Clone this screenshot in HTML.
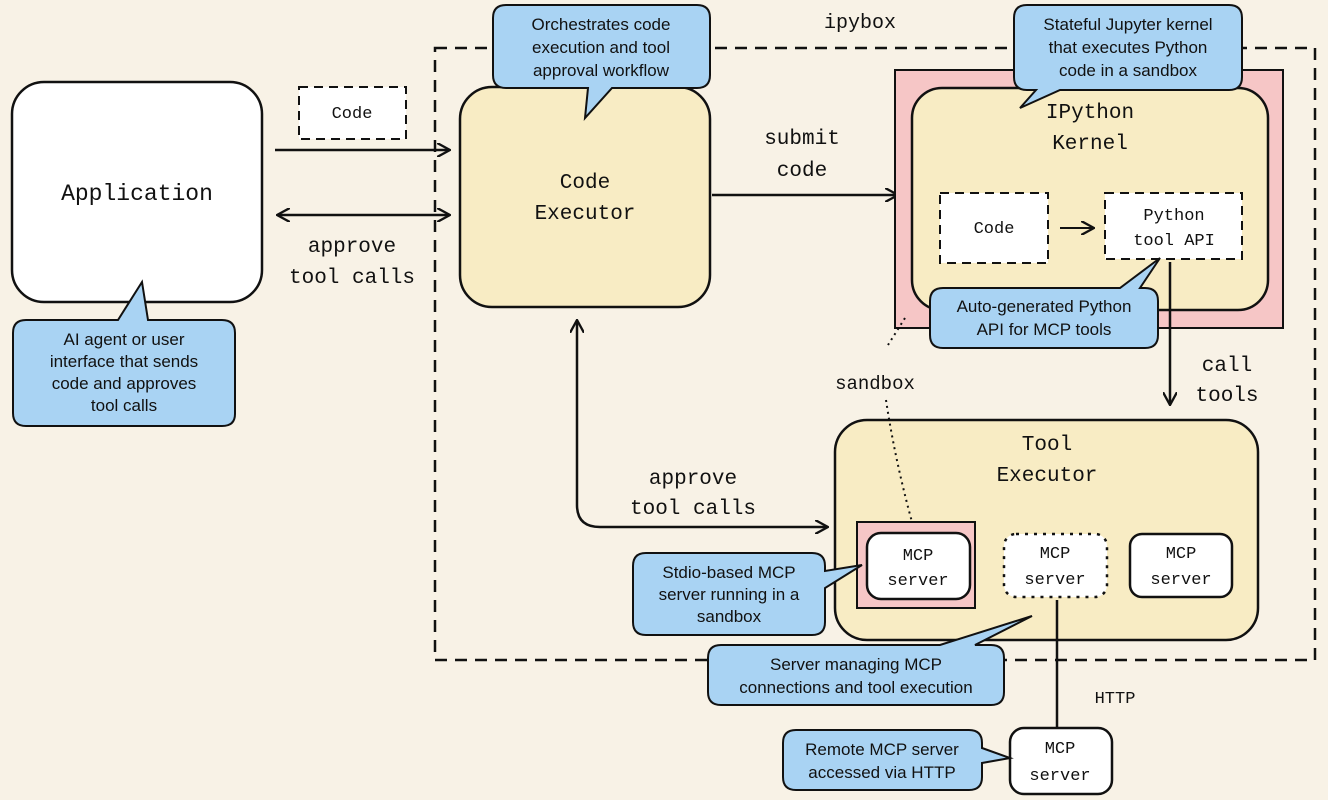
<!DOCTYPE html>
<html><head><meta charset="utf-8"><style>
html,body{margin:0;padding:0;background:#f8f2e6;}
svg{display:block}
.h{font-family:"Liberation Mono",monospace;fill:#111;}
.c{font-family:"Liberation Sans",sans-serif;fill:#111;font-size:17px;}
</style></head><body>
<svg width="1328" height="800" viewBox="0 0 1328 800" xmlns="http://www.w3.org/2000/svg">
<defs>
<marker id="a" viewBox="0 0 12 12" refX="11" refY="6" markerWidth="14" markerHeight="14" orient="auto-start-reverse" markerUnits="userSpaceOnUse"><path d="M0,0 L11,6 L0,12" fill="none" stroke="#111" stroke-width="2"/></marker>
</defs>
<rect width="1328" height="800" fill="#f8f2e6"/>
<rect x="435" y="48" width="880" height="612" fill="none" stroke="#111" stroke-width="2.5" stroke-dasharray="12 8"/>
<text class="h" x="860" y="28" font-size="20" text-anchor="middle">ipybox</text>

<rect x="12" y="82" width="250" height="220" rx="32" fill="#fff" stroke="#111" stroke-width="2.5"/>
<text class="h" x="137" y="200" font-size="23" text-anchor="middle">Application</text>
<rect x="299" y="87" width="107" height="52" fill="#fff" stroke="#111" stroke-width="2" stroke-dasharray="9 6"/>
<text class="h" x="352" y="118" font-size="17" text-anchor="middle">Code</text>
<line x1="275" y1="150" x2="450" y2="150" stroke="#111" stroke-width="2.5" marker-end="url(#a)"/>
<line x1="277" y1="215" x2="450" y2="215" stroke="#111" stroke-width="2.5" marker-end="url(#a)" marker-start="url(#a)"/>
<text class="h" x="352" y="252" font-size="21" text-anchor="middle">approve</text>
<text class="h" x="352" y="283" font-size="21" text-anchor="middle">tool calls</text>

<rect x="460" y="87" width="250" height="220" rx="32" fill="#f8ecc4" stroke="#111" stroke-width="2.5"/>
<text class="h" x="585" y="188" font-size="21" text-anchor="middle">Code</text>
<text class="h" x="585" y="219" font-size="21" text-anchor="middle">Executor</text>

<line x1="712" y1="195" x2="898" y2="195" stroke="#111" stroke-width="2.5" marker-end="url(#a)"/>
<text class="h" x="802" y="144" font-size="21" text-anchor="middle">submit</text>
<text class="h" x="802" y="176" font-size="21" text-anchor="middle">code</text>

<rect x="895" y="70" width="388" height="258" fill="#f6c6c6" stroke="#111" stroke-width="2"/>
<rect x="912" y="88" width="356" height="222" rx="30" fill="#f8ecc4" stroke="#111" stroke-width="2.5"/>
<text class="h" x="1090" y="118" font-size="21" text-anchor="middle">IPython</text>
<text class="h" x="1090" y="149" font-size="21" text-anchor="middle">Kernel</text>
<rect x="940" y="193" width="108" height="70" fill="#fff" stroke="#111" stroke-width="2" stroke-dasharray="9 6"/>
<text class="h" x="994" y="233" font-size="17" text-anchor="middle">Code</text>
<line x1="1060" y1="228" x2="1094" y2="228" stroke="#111" stroke-width="2" marker-end="url(#a)"/>
<rect x="1105" y="193" width="137" height="66" fill="#fff" stroke="#111" stroke-width="2" stroke-dasharray="9 6"/>
<text class="h" x="1174" y="220" font-size="17" text-anchor="middle">Python</text>
<text class="h" x="1174" y="245" font-size="17" text-anchor="middle">tool API</text>

<line x1="1170" y1="262" x2="1170" y2="405" stroke="#111" stroke-width="2.5" marker-end="url(#a)"/>
<text class="h" x="1227" y="371" font-size="21" text-anchor="middle">call</text>
<text class="h" x="1227" y="401" font-size="21" text-anchor="middle">tools</text>

<text class="h" x="875" y="389" font-size="19" text-anchor="middle">sandbox</text>
<path d="M905,318 L888,345" stroke="#111" stroke-width="2" stroke-dasharray="2 4" fill="none"/>

<rect x="835" y="420" width="423" height="220" rx="32" fill="#f8ecc4" stroke="#111" stroke-width="2.5"/>
<path d="M886,400 Q895,460 912,522" stroke="#111" stroke-width="2" stroke-dasharray="2 4" fill="none"/>
<text class="h" x="1047" y="450" font-size="21" text-anchor="middle">Tool</text>
<text class="h" x="1047" y="481" font-size="21" text-anchor="middle">Executor</text>
<rect x="857" y="522" width="118" height="86" fill="#f6c6c6" stroke="#111" stroke-width="2"/>
<rect x="867" y="533" width="103" height="66" rx="14" fill="#fff" stroke="#111" stroke-width="2.5"/>
<text class="h" x="918" y="560" font-size="17" text-anchor="middle">MCP</text>
<text class="h" x="918" y="585" font-size="17" text-anchor="middle">server</text>
<rect x="1004" y="534" width="103" height="63" rx="12" fill="#fff" stroke="#111" stroke-width="2.5" stroke-dasharray="3 6"/>
<text class="h" x="1055" y="558" font-size="17" text-anchor="middle">MCP</text>
<text class="h" x="1055" y="584" font-size="17" text-anchor="middle">server</text>
<rect x="1130" y="534" width="102" height="63" rx="12" fill="#fff" stroke="#111" stroke-width="2.5"/>
<text class="h" x="1181" y="558" font-size="17" text-anchor="middle">MCP</text>
<text class="h" x="1181" y="584" font-size="17" text-anchor="middle">server</text>

<path d="M577,320 L577,505 Q577,527 600,527 L828,527" stroke="#111" stroke-width="2.5" fill="none" marker-start="url(#a)" marker-end="url(#a)"/>
<text class="h" x="693" y="484" font-size="21" text-anchor="middle">approve</text>
<text class="h" x="693" y="514" font-size="21" text-anchor="middle">tool calls</text>

<line x1="1057" y1="600" x2="1057" y2="728" stroke="#111" stroke-width="2.5"/>
<text class="h" x="1115" y="703" font-size="17" text-anchor="middle">HTTP</text>
<rect x="1010" y="728" width="102" height="66" rx="14" fill="#fff" stroke="#111" stroke-width="2.5"/>
<text class="h" x="1060" y="753" font-size="17" text-anchor="middle">MCP</text>
<text class="h" x="1060" y="780" font-size="17" text-anchor="middle">server</text>

<g fill="#a9d3f3" stroke="#111" stroke-width="2">
<path d="M26,320 L118,320 L142,282 L148,320 L222,320 Q235,320 235,333 L235,414 Q235,426 222,426 L26,426 Q13,426 13,413 L13,333 Q13,320 26,320 Z"/>
<path d="M506,5 L697,5 Q710,5 710,18 L710,75 Q710,88 697,88 L612,88 L585,118 L588,88 L506,88 Q493,88 493,75 L493,18 Q493,5 506,5 Z"/>
<path d="M1027,5 L1229,5 Q1242,5 1242,18 L1242,77 Q1242,90 1229,90 L1060,90 L1020,108 L1036,90 L1027,90 Q1014,90 1014,77 L1014,18 Q1014,5 1027,5 Z"/>
<path d="M943,288 L1120,288 L1160,258 L1140,288 L1145,288 Q1158,288 1158,301 L1158,335 Q1158,348 1145,348 L943,348 Q930,348 930,335 L930,301 Q930,288 943,288 Z"/>
<path d="M646,553 L812,553 Q825,553 825,566 L825,571 L862,565 L825,588 L825,622 Q825,635 812,635 L646,635 Q633,635 633,622 L633,566 Q633,553 646,553 Z"/>
<path d="M721,645 L940,645 L1032,616 L975,645 L991,645 Q1004,645 1004,658 L1004,692 Q1004,705 991,705 L721,705 Q708,705 708,692 L708,658 Q708,645 721,645 Z"/>
<path d="M796,730 L969,730 Q982,730 982,743 L982,748 L1010,758 L982,763 L982,777 Q982,790 969,790 L796,790 Q783,790 783,777 L783,743 Q783,730 796,730 Z"/>
</g>
<text class="c" text-anchor="middle">
<tspan x="124" y="345">AI agent or user</tspan><tspan x="124" y="367">interface that sends</tspan><tspan x="124" y="389">code and approves</tspan><tspan x="124" y="411">tool calls</tspan>
</text>
<text class="c" text-anchor="middle">
<tspan x="601" y="30">Orchestrates code</tspan><tspan x="601" y="53">execution and tool</tspan><tspan x="601" y="76">approval workflow</tspan>
</text>
<text class="c" text-anchor="middle">
<tspan x="1128" y="30">Stateful Jupyter kernel</tspan><tspan x="1128" y="53">that executes Python</tspan><tspan x="1128" y="76">code in a sandbox</tspan>
</text>
<text class="c" text-anchor="middle">
<tspan x="1044" y="312">Auto-generated Python</tspan><tspan x="1044" y="335">API for MCP tools</tspan>
</text>
<text class="c" text-anchor="middle">
<tspan x="729" y="578">Stdio-based MCP</tspan><tspan x="729" y="600">server running in a</tspan><tspan x="729" y="622">sandbox</tspan>
</text>
<text class="c" text-anchor="middle">
<tspan x="856" y="670">Server managing MCP</tspan><tspan x="856" y="693">connections and tool execution</tspan>
</text>
<text class="c" text-anchor="middle">
<tspan x="882" y="755">Remote MCP server</tspan><tspan x="882" y="778">accessed via HTTP</tspan>
</text>
</svg>
</body></html>
